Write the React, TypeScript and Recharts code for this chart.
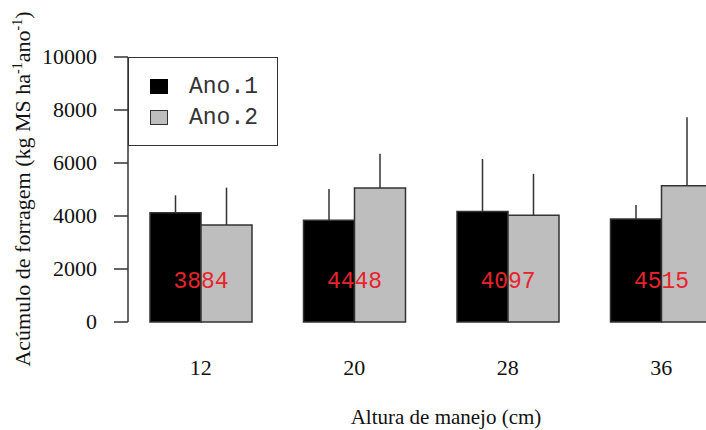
import React from 'react';
import { BarChart, Bar, XAxis, YAxis, ErrorBar, Legend, LabelList, Label } from 'recharts';

const categories = ['12', '20', '28', '36'];
const ano1 = [4120, 3840, 4170, 3890];
const ano2 = [3660, 5060, 4030, 5140];
const ano1ErrUp = [660, 1180, 1980, 525];
const ano2ErrUp = [1410, 1290, 1560, 2585];
const meanLabels = ['3884', '4448', '4097', '4515'];
const yTicks = [0, 2000, 4000, 6000, 8000, 10000];

const data = categories.map((c, i) => ({
  cat: c,
  ano1: ano1[i],
  ano2: ano2[i],
  e1: [0, ano1ErrUp[i]],
  e2: [0, ano2ErrUp[i]],
  mean: meanLabels[i],
}));

const SERIF = '"Liberation Serif", "Times New Roman", serif';
const MONO = '"Liberation Mono", "Courier New", monospace';
const AXIS = '#333';

const XTick = (props: any) => {
  const { x, y, payload } = props;
  return (
    <text x={x} y={y + 53} textAnchor="middle" style={{ fontFamily: SERIF, fontSize: 22 }} fill="#111">
      {payload.value}
    </text>
  );
};

const YTick = (props: any) => {
  const { x, y, payload } = props;
  return (
    <text x={x} y={y + 7} textAnchor="end" style={{ fontFamily: SERIF, fontSize: 22 }} fill="#111">
      {payload.value}
    </text>
  );
};

const MeanLabel = (props: any) => {
  const { x, y, width, height, value } = props;
  return (
    <text
      x={x + width}
      y={y + height - 34}
      textAnchor="middle"
      style={{ fontFamily: MONO, fontSize: 23 }}
      fill="#e8232b"
    >
      {value}
    </text>
  );
};

const LegendBox = () => (
  <div
    style={{
      position: 'relative',
      width: 150,
      height: 89,
      border: `1.5px solid ${AXIS}`,
      boxSizing: 'border-box',
      background: '#fff',
      fontFamily: MONO,
      fontSize: 23,
      color: '#333',
    }}
  >
    <div style={{ position: 'absolute', left: 21, top: 21, width: 18, height: 15, background: '#000' }} />
    <div style={{ position: 'absolute', left: 60, top: 18, lineHeight: '23px' }}>Ano.1</div>
    <div
      style={{
        position: 'absolute',
        left: 21,
        top: 52,
        width: 16,
        height: 13,
        background: '#bebebe',
        border: `1.5px solid ${AXIS}`,
      }}
    />
    <div style={{ position: 'absolute', left: 60, top: 49, lineHeight: '23px' }}>Ano.2</div>
  </div>
);

const YTitle = () => (
  <text
    transform="translate(30,189) rotate(-90)"
    textAnchor="middle"
    style={{ fontFamily: SERIF, fontSize: 22 }}
    fill="#111"
  >
    <tspan>Acúmulo de forragem (kg MS ha</tspan>
    <tspan dy={-8} style={{ fontSize: 14 }}>-1</tspan>
    <tspan dy={8}>ano</tspan>
    <tspan dy={-8} style={{ fontSize: 14 }}>-1</tspan>
    <tspan dy={8}>)</tspan>
  </text>
);

const XTitle = () => (
  <text x={446} y={424} textAnchor="middle" style={{ fontFamily: SERIF, fontSize: 21 }} fill="#111">
    Altura de manejo (cm)
  </text>
);

export default function App() {
  return (
    <div style={{ position: 'absolute', left: 0, top: 0, width: 706, height: 430, overflow: 'hidden', background: '#fff' }}>
      <BarChart
        width={738}
        height={430}
        data={data}
        margin={{ top: 57, right: 0, bottom: 0, left: 0 }}
        barGap={0}
        barSize={51}
      >
        <XAxis
          dataKey="cat"
          axisLine={false}
          tickLine={false}
          tickSize={0}
          tickMargin={0}
          height={108}
          padding={{ left: -4, right: 0 }}
          tick={<XTick />}
          interval={0}
        >
          <Label content={<XTitle />} />
        </XAxis>
        <YAxis
          width={128}
          domain={[0, 10000]}
          ticks={yTicks}
          interval={0}
          tickSize={14}
          tickMargin={17}
          axisLine={{ stroke: AXIS, strokeWidth: 1.5 }}
          tickLine={{ stroke: AXIS, strokeWidth: 1.5 }}
          tick={<YTick />}
        >
          <Label content={<YTitle />} />
        </YAxis>
        <Legend
          layout="vertical"
          align="center"
          verticalAlign="middle"
          content={<LegendBox />}
          wrapperStyle={{ position: 'absolute', left: 128, top: 57, width: 150, height: 89 }}
        />
        <Bar dataKey="ano1" fill="#000" stroke={AXIS} strokeWidth={1.5} isAnimationActive={false}>
          <ErrorBar dataKey="e1" width={0} stroke={AXIS} strokeWidth={1.5} direction="y" isAnimationActive={false} />
          <LabelList dataKey="mean" content={<MeanLabel />} />
        </Bar>
        <Bar dataKey="ano2" fill="#bebebe" stroke={AXIS} strokeWidth={1.5} isAnimationActive={false}>
          <ErrorBar dataKey="e2" width={0} stroke={AXIS} strokeWidth={1.5} direction="y" isAnimationActive={false} />
        </Bar>
      </BarChart>
    </div>
  );
}
